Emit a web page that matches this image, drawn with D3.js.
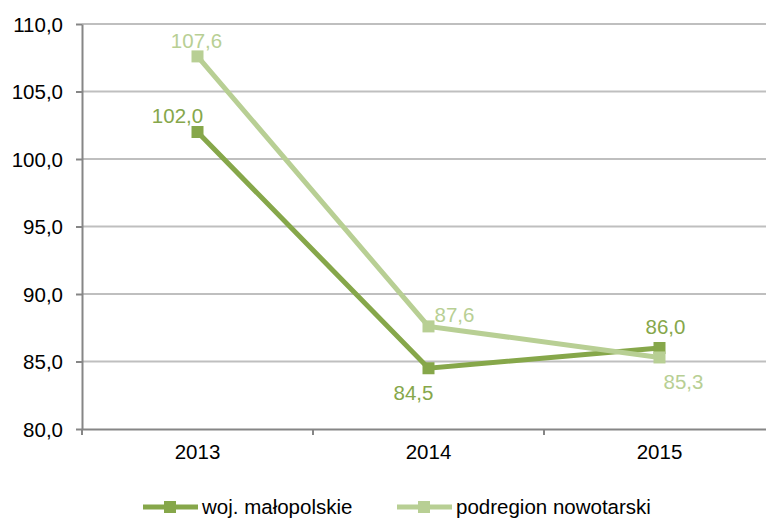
<!DOCTYPE html>
<meta charset='utf-8'>
<body style='margin:0;background:#fff'>
<script src='https://d3js.org/d3.v7.min.js'></script>
<script>

    var years = ['2013', '2014', '2015'];
    var wojMalopolskie = [102.0, 84.5, 86.0];
    var podregionNowotarski = [107.6, 87.6, 85.3];
    var yTicks = [80, 85, 90, 95, 100, 105, 110];
    var seriesNames = ['woj. małopolskie', 'podregion nowotarski'];

    var colors = { dark: '#86A74A', light: '#B8CF94', grid: '#BFBFBF', axis: '#868686' };
    var width = 766, height = 518, fontSize = '20.5px';
    var plotLeft = 82, plotTop = 24, plotW = 693, plotH = 405;

    var svg = d3.select('body').append('svg')
        .attr('width', width)
        .attr('height', height)
        .style('font-family', 'Liberation Sans, Arial, sans-serif');

    var x = d3.scaleBand().domain(years).range([plotLeft, plotLeft + plotW]);
    var y = d3.scaleLinear().domain([80, 110]).range([plotTop + plotH, plotTop]);
    var fmt = function(v){ return v.toFixed(1).replace('.', ','); };

    // gridlines
    svg.append('g').selectAll('line')
        .data(yTicks.slice(1))
        .enter().append('line')
        .attr('x1', plotLeft).attr('x2', plotLeft + plotW)
        .attr('y1', function(d){ return y(d); })
        .attr('y2', function(d){ return y(d); })
        .attr('stroke', colors.grid)
        .attr('stroke-width', 2);

    var yAxis = svg.append('g')
        .attr('transform', 'translate(' + plotLeft + ',0)')
        .call(d3.axisLeft(y).tickValues(yTicks).tickSize(6).tickSizeOuter(0).tickFormat(fmt));
    yAxis.select('.domain').attr('stroke', colors.axis).attr('stroke-width', 2);
    yAxis.selectAll('.tick line').attr('stroke', colors.axis).attr('stroke-width', 2);
    yAxis.selectAll('text').attr('x', -19).attr('dy', '0.35em')
        .style('font-size', fontSize).style('font-family', 'Liberation Sans, Arial, sans-serif').attr('fill', '#000');

    var xAxis = svg.append('g')
        .attr('transform', 'translate(0,' + (plotTop + plotH) + ')')
        .call(d3.axisBottom(x).tickSize(0).tickSizeOuter(0));
    xAxis.select('.domain').attr('stroke', colors.axis).attr('stroke-width', 2);
    xAxis.selectAll('text').attr('y', 23).attr('dy', '0.35em')
        .style('font-size', fontSize).style('font-family', 'Liberation Sans, Arial, sans-serif').attr('fill', '#000');

    // band boundary ticks
    svg.append('g').selectAll('line')
        .data([0, 1, 2, 3])
        .enter().append('line')
        .attr('x1', function(i){ return plotLeft + i * x.bandwidth(); })
        .attr('x2', function(i){ return plotLeft + i * x.bandwidth(); })
        .attr('y1', plotTop + plotH).attr('y2', plotTop + plotH + 6)
        .attr('stroke', colors.axis).attr('stroke-width', 2);

    var cx = function(d, i){ return x(years[i]) + x.bandwidth() / 2; };
    var line = d3.line().x(cx).y(function(d){ return y(d); });

    var series = [
        { values: wojMalopolskie, color: colors.dark, labelDx: [-20, -15, 6], labelDy: [-16, 25, -21] },
        { values: podregionNowotarski, color: colors.light, labelDx: [-1, 26, 24], labelDy: [-16, -12, 24] }
    ];

    series.forEach(function(s){
        svg.append('path')
            .datum(s.values)
            .attr('d', line)
            .attr('fill', 'none')
            .attr('stroke', s.color)
            .attr('stroke-width', 5);
        svg.append('g').selectAll('rect')
            .data(s.values)
            .enter().append('rect')
            .attr('x', function(d, i){ return cx(d, i) - 6; })
            .attr('y', function(d){ return y(d) - 6; })
            .attr('width', 12).attr('height', 12)
            .attr('fill', s.color);
    });

    series.forEach(function(s){
        svg.append('g').selectAll('text')
            .data(s.values)
            .enter().append('text')
            .attr('x', function(d, i){ return cx(d, i) + s.labelDx[i]; })
            .attr('y', function(d, i){ return y(d) + s.labelDy[i]; })
            .attr('dy', '0.35em')
            .attr('text-anchor', 'middle')
            .attr('fill', s.color)
            .style('font-size', fontSize)
            .text(fmt);
    });

    // legend
    var legendX = [143, 397];
    seriesNames.forEach(function(name, i){
        var g = svg.append('g').attr('transform', 'translate(' + legendX[i] + ',507)');
        g.append('line').attr('x1', 0).attr('x2', 55).attr('y1', 0).attr('y2', 0)
            .attr('stroke', series[i].color).attr('stroke-width', 5);
        g.append('rect').attr('x', 21).attr('y', -6).attr('width', 12).attr('height', 12)
            .attr('fill', series[i].color);
        g.append('text').attr('x', 59).attr('dy', '0.35em')
            .style('font-size', fontSize).attr('fill', '#000').text(name);
    });

</script>
</body>
